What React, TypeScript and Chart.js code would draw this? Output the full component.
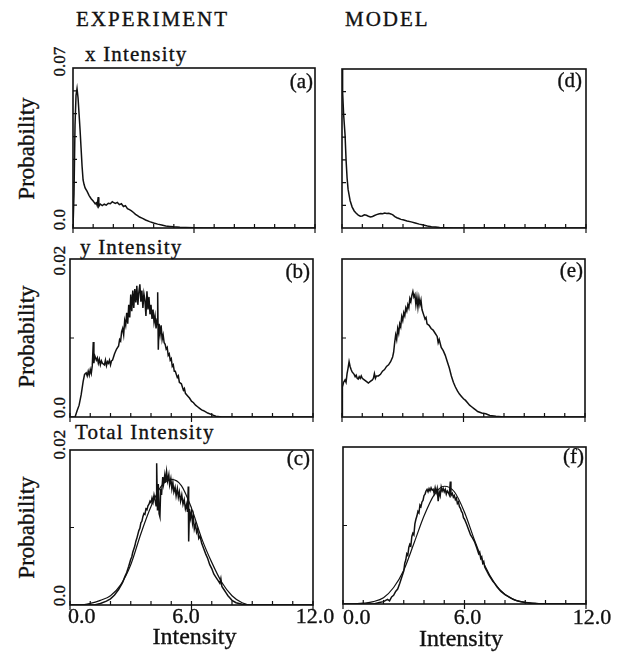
import React, { useEffect, useRef } from "react";
import { Chart, registerables } from "chart.js";

Chart.register(...registerables);

type Pt = [number, number];

// ---------- tick positions and labels ----------
const X_TICKS = [0, 1, 2, 3, 4, 5, 6, 7, 8, 9, 10, 11, 12];
const X_MAJOR = [0, 6, 12];
const X_TICK_LABELS = ["0.0", "6.0", "12.0"];
const Y_TICKS_X = [0.01, 0.02, 0.03, 0.04, 0.05, 0.06];
const Y_TICKS_Y = [0.01];
const Y_LABELS_X = ["0.07", "0.0"];
const Y_LABELS_Y = ["0.02", "0.0"];

// ---------- (a) experiment, x intensity ----------
const EXP_X: Pt[] = [
  [0, 0], [0.05, 0.015], [0.1, 0.045], [0.15, 0.058], [0.2, 0.061], [0.25, 0.057], [0.3, 0.05],
  [0.35, 0.043], [0.4, 0.035], [0.45, 0.027], [0.5, 0.021], [0.55, 0.019], [0.6, 0.0175],
  [0.7, 0.016], [0.8, 0.0142], [0.9, 0.0128], [1.0, 0.0118], [1.05, 0.0112], [1.1, 0.0106],
  [1.15, 0.011], [1.2, 0.0098], [1.25, 0.0135], [1.28, 0.0095], [1.35, 0.0105], [1.45, 0.0098],
  [1.55, 0.0104], [1.65, 0.01], [1.75, 0.0108], [1.85, 0.0106], [1.95, 0.0115], [2.0, 0.0112],
  [2.1, 0.0108], [2.2, 0.0112], [2.3, 0.0102], [2.4, 0.0106], [2.5, 0.0094], [2.6, 0.0098],
  [2.7, 0.0085], [2.8, 0.008], [2.9, 0.0075], [3.0, 0.0068], [3.1, 0.006], [3.2, 0.0054],
  [3.3, 0.0048], [3.45, 0.0042], [3.6, 0.0035], [3.8, 0.0028], [4.0, 0.0022], [4.2, 0.0017],
  [4.4, 0.0013], [4.6, 0.0009], [4.8, 0.0007], [5.0, 0.0005], [5.3, 0.0003], [5.6, 0.0002],
  [6.0, 0.0001], [6.5, 0], [12, 0],
];

// ---------- (d) model, x intensity ----------
const MOD_X: Pt[] = [
  [0, 0.07], [0.03, 0.06], [0.08, 0.05], [0.15, 0.041], [0.2, 0.03], [0.25, 0.022], [0.3, 0.017],
  [0.35, 0.0145], [0.4, 0.012], [0.5, 0.0092], [0.6, 0.0075], [0.7, 0.0065], [0.8, 0.0057],
  [0.9, 0.0052], [1.0, 0.0053], [1.1, 0.0058], [1.2, 0.0056], [1.3, 0.0052], [1.4, 0.0049],
  [1.5, 0.0051], [1.6, 0.0055], [1.7, 0.0059], [1.8, 0.0062], [1.9, 0.0064], [2.0, 0.0063],
  [2.1, 0.0066], [2.2, 0.0064], [2.3, 0.0065], [2.4, 0.0062], [2.5, 0.0058], [2.6, 0.005],
  [2.7, 0.0045], [2.8, 0.0042], [2.9, 0.0038], [3.0, 0.0036], [3.2, 0.0031], [3.4, 0.0027],
  [3.6, 0.0022], [3.8, 0.0017], [4.0, 0.0013], [4.2, 0.0009], [4.4, 0.0006], [4.6, 0.0004],
  [4.8, 0.0002], [5.1, 0.0001], [5.5, 0], [12, 0],
];

// ---------- (b) experiment, y intensity ----------
const EXP_Y: Pt[] = [
  [0, 0], [0.25, 0], [0.35, 0.0008], [0.45, 0.0015], [0.55, 0.0028], [0.65, 0.0045], [0.72, 0.0054],
  [0.8, 0.0056], [0.85, 0.0052], [0.9, 0.0058], [0.95, 0.0053], [1.0, 0.006], [1.05, 0.0055],
  [1.1, 0.0065], [1.15, 0.0095], [1.18, 0.0068], [1.22, 0.0078], [1.3, 0.0072], [1.35, 0.0075],
  [1.4, 0.0068], [1.45, 0.0073], [1.5, 0.0066], [1.55, 0.0071], [1.6, 0.0068], [1.7, 0.0066],
  [1.75, 0.0072], [1.8, 0.0065], [1.85, 0.007], [1.9, 0.0068], [1.95, 0.0072], [2.0, 0.0066],
  [2.05, 0.0071], [2.1, 0.0072], [2.15, 0.0076], [2.2, 0.008], [2.3, 0.0086], [2.4, 0.009],
  [2.45, 0.0098], [2.5, 0.0096], [2.55, 0.0108], [2.6, 0.0112], [2.65, 0.0104], [2.7, 0.0122],
  [2.75, 0.0116], [2.8, 0.0132], [2.85, 0.0118], [2.9, 0.0142], [2.95, 0.0126], [3.0, 0.0155],
  [3.05, 0.0134], [3.1, 0.016], [3.15, 0.0138], [3.2, 0.0162], [3.25, 0.0145], [3.3, 0.0166],
  [3.35, 0.0142], [3.4, 0.0158], [3.45, 0.0168], [3.5, 0.0146], [3.55, 0.016], [3.6, 0.0138],
  [3.65, 0.0156], [3.7, 0.0148], [3.75, 0.0128], [3.8, 0.0159], [3.85, 0.0136], [3.9, 0.0152],
  [3.95, 0.013], [4.0, 0.0142], [4.05, 0.0124], [4.1, 0.0136], [4.15, 0.012], [4.2, 0.0128],
  [4.25, 0.0112], [4.3, 0.0124], [4.33, 0.0158], [4.36, 0.0085], [4.4, 0.0118], [4.45, 0.0105],
  [4.5, 0.0116], [4.55, 0.0098], [4.6, 0.0104], [4.65, 0.0094], [4.7, 0.0092], [4.75, 0.0086],
  [4.8, 0.0088], [4.85, 0.0078], [4.9, 0.008], [4.95, 0.0072], [5.0, 0.0074], [5.05, 0.0064],
  [5.1, 0.0066], [5.15, 0.0058], [5.2, 0.0058], [5.3, 0.005], [5.35, 0.0052], [5.4, 0.0044],
  [5.5, 0.0042], [5.6, 0.0034], [5.65, 0.0036], [5.7, 0.003], [5.8, 0.0027], [5.9, 0.0024],
  [6.0, 0.002], [6.1, 0.0018], [6.2, 0.0015], [6.3, 0.0013], [6.4, 0.0011], [6.5, 0.0009],
  [6.6, 0.0008], [6.8, 0.0005], [7.0, 0.0003], [7.2, 0.0001], [7.5, 0], [12, 0],
];

// ---------- (e) model, y intensity ----------
const MOD_Y: Pt[] = [
  [0, 0], [0.02, 0.0038], [0.08, 0.0044], [0.15, 0.0047], [0.2, 0.0044], [0.25, 0.0055], [0.3, 0.0062],
  [0.35, 0.007], [0.4, 0.0064], [0.45, 0.006], [0.5, 0.0057], [0.6, 0.0054], [0.65, 0.0051],
  [0.7, 0.0053], [0.75, 0.0049], [0.8, 0.0048], [0.85, 0.0051], [0.9, 0.0049], [0.95, 0.0052],
  [1.0, 0.0049], [1.1, 0.0047], [1.2, 0.0045], [1.3, 0.0043], [1.4, 0.0045], [1.5, 0.0047],
  [1.55, 0.0049], [1.6, 0.0055], [1.65, 0.0049], [1.7, 0.0052], [1.8, 0.0052], [1.9, 0.0054],
  [2.0, 0.0058], [2.1, 0.006], [2.2, 0.0064], [2.3, 0.0066], [2.4, 0.007], [2.5, 0.0076],
  [2.55, 0.0082], [2.6, 0.0094], [2.65, 0.0104], [2.7, 0.0098], [2.75, 0.0112], [2.8, 0.0106],
  [2.85, 0.0118], [2.9, 0.0114], [2.95, 0.0127], [3.0, 0.0122], [3.05, 0.0132], [3.1, 0.0128],
  [3.15, 0.0138], [3.2, 0.0134], [3.25, 0.0142], [3.3, 0.0138], [3.35, 0.015], [3.4, 0.0146],
  [3.45, 0.0154], [3.5, 0.0159], [3.55, 0.0152], [3.6, 0.0155], [3.65, 0.0142], [3.7, 0.0152],
  [3.75, 0.0139], [3.8, 0.0151], [3.85, 0.0142], [3.9, 0.0148], [3.95, 0.0136], [4.0, 0.0132],
  [4.05, 0.0128], [4.1, 0.0124], [4.15, 0.0126], [4.2, 0.0118], [4.3, 0.0116], [4.4, 0.0112],
  [4.5, 0.011], [4.6, 0.0106], [4.7, 0.0102], [4.75, 0.0094], [4.8, 0.0098], [4.9, 0.0088],
  [5.0, 0.0084], [5.1, 0.0078], [5.2, 0.007], [5.3, 0.0062], [5.4, 0.0052], [5.5, 0.0044],
  [5.6, 0.0038], [5.7, 0.0033], [5.8, 0.0029], [5.9, 0.0026], [6.0, 0.0023], [6.1, 0.0021],
  [6.2, 0.0018], [6.3, 0.0015], [6.4, 0.0013], [6.5, 0.0011], [6.6, 0.0009], [6.7, 0.0007],
  [6.9, 0.0005], [7.1, 0.0004], [7.3, 0.0002], [7.6, 0.0001], [8.0, 0], [12, 0],
];

// ---------- (c) experiment, total intensity ----------
const EXP_T: Pt[] = [
  [0, 0], [1.2, 0], [1.5, 0.0002], [1.8, 0.0005], [2.0, 0.0008], [2.2, 0.0013], [2.4, 0.002],
  [2.6, 0.0029], [2.7, 0.0036], [2.8, 0.0042], [2.9, 0.005], [3.0, 0.0059], [3.05, 0.0062],
  [3.1, 0.0068], [3.2, 0.0076], [3.25, 0.0082], [3.3, 0.0086], [3.4, 0.0096], [3.45, 0.0099],
  [3.5, 0.0106], [3.55, 0.0108], [3.6, 0.0114], [3.65, 0.0118], [3.7, 0.0117], [3.75, 0.0124],
  [3.8, 0.0123], [3.85, 0.0128], [3.9, 0.013], [3.95, 0.0134], [4.0, 0.0132], [4.05, 0.0138],
  [4.1, 0.0133], [4.15, 0.0142], [4.2, 0.0136], [4.25, 0.0128], [4.28, 0.0183], [4.32, 0.0122],
  [4.36, 0.0156], [4.4, 0.0118], [4.44, 0.0114], [4.48, 0.015], [4.52, 0.0142], [4.58, 0.0165],
  [4.62, 0.0156], [4.68, 0.0168], [4.72, 0.0158], [4.77, 0.0172], [4.82, 0.016], [4.88, 0.0168],
  [4.92, 0.0155], [4.98, 0.0163], [5.03, 0.015], [5.08, 0.0158], [5.13, 0.0146], [5.19, 0.0152],
  [5.24, 0.0141], [5.3, 0.015], [5.35, 0.0139], [5.4, 0.0146], [5.46, 0.0134], [5.52, 0.0142],
  [5.58, 0.013], [5.64, 0.0136], [5.7, 0.0124], [5.76, 0.013], [5.8, 0.012], [5.84, 0.0153],
  [5.86, 0.0082], [5.9, 0.0124], [5.95, 0.0112], [6.0, 0.012], [6.05, 0.0106], [6.09, 0.0114],
  [6.14, 0.0098], [6.2, 0.0104], [6.25, 0.0094], [6.3, 0.0098], [6.36, 0.0086], [6.42, 0.0089],
  [6.5, 0.008], [6.6, 0.0073], [6.7, 0.0066], [6.8, 0.006], [6.9, 0.0052], [7.0, 0.0047],
  [7.1, 0.004], [7.2, 0.0036], [7.3, 0.0032], [7.4, 0.0028], [7.45, 0.0034], [7.5, 0.0024],
  [7.6, 0.002], [7.7, 0.0016], [7.8, 0.0012], [7.9, 0.0009], [8.0, 0.0006], [8.2, 0.0003],
  [8.5, 0.0001], [8.8, 0], [12, 0],
];

// ---------- (c) fitted curve ----------
const FIT_C: Pt[] = [
  [0, 0], [0.5, 0], [1.0, 0.0002], [1.5, 0.0006], [2.0, 0.0012], [2.5, 0.0026], [3.0, 0.0052],
  [3.5, 0.0092], [4.0, 0.0127], [4.5, 0.0153], [5.0, 0.0162], [5.5, 0.0154], [6.0, 0.0125],
  [6.5, 0.0086], [7.0, 0.0055], [7.5, 0.0029], [8.0, 0.0012], [8.5, 0.0003], [9.0, 0], [12, 0],
];

// ---------- (f) model, total intensity ----------
const MOD_T: Pt[] = [
  [0, 0], [1.5, 0], [1.8, 0.0002], [2.0, 0.0003], [2.2, 0.0006], [2.3, 0.0004], [2.4, 0.0009],
  [2.5, 0.0011], [2.6, 0.0016], [2.7, 0.0019], [2.8, 0.0026], [2.9, 0.0034], [3.0, 0.0042],
  [3.05, 0.0052], [3.1, 0.0056], [3.15, 0.0064], [3.2, 0.0062], [3.25, 0.0072], [3.3, 0.0076],
  [3.35, 0.0074], [3.4, 0.0086], [3.45, 0.009], [3.5, 0.0088], [3.55, 0.0102], [3.6, 0.0108],
  [3.65, 0.0112], [3.7, 0.0118], [3.75, 0.0116], [3.8, 0.0126], [3.85, 0.0124], [3.9, 0.013],
  [3.95, 0.0132], [4.0, 0.0138], [4.05, 0.014], [4.1, 0.0144], [4.15, 0.0146], [4.2, 0.0143],
  [4.25, 0.0147], [4.3, 0.0144], [4.35, 0.0148], [4.4, 0.0145], [4.45, 0.0146], [4.5, 0.0141],
  [4.55, 0.0148], [4.6, 0.0142], [4.65, 0.0147], [4.7, 0.0131], [4.75, 0.0143], [4.8, 0.0138],
  [4.85, 0.0149], [4.9, 0.0144], [4.95, 0.0147], [5.0, 0.0143], [5.05, 0.0146], [5.1, 0.014],
  [5.15, 0.0144], [5.2, 0.0142], [5.25, 0.0139], [5.3, 0.0156], [5.33, 0.0138], [5.4, 0.0141],
  [5.45, 0.0136], [5.5, 0.0138], [5.55, 0.0133], [5.6, 0.0135], [5.65, 0.0128], [5.7, 0.013],
  [5.75, 0.0124], [5.8, 0.0122], [5.85, 0.0118], [5.9, 0.0116], [5.95, 0.011], [6.0, 0.0108],
  [6.1, 0.0102], [6.2, 0.0095], [6.3, 0.0088], [6.4, 0.0084], [6.5, 0.0079], [6.6, 0.0072],
  [6.7, 0.0064], [6.75, 0.0066], [6.8, 0.0058], [6.85, 0.006], [6.9, 0.0052], [6.95, 0.0054],
  [7.0, 0.0047], [7.1, 0.0042], [7.2, 0.0037], [7.3, 0.0033], [7.4, 0.0029], [7.5, 0.0026],
  [7.6, 0.0022], [7.8, 0.0016], [8.0, 0.0012], [8.2, 0.0009], [8.4, 0.0006], [8.6, 0.0004],
  [8.8, 0.0003], [9.0, 0.0002], [9.3, 0.0001], [9.6, 0], [12, 0],
];

// ---------- (f) fitted curve ----------
const FIT_F: Pt[] = [
  [0, 0], [0.5, 0], [1.0, 0.0001], [1.5, 0.0003], [2.0, 0.0008], [2.5, 0.0021], [3.0, 0.0043],
  [3.5, 0.0077], [4.0, 0.0112], [4.5, 0.0139], [5.0, 0.015], [5.5, 0.0143], [6.0, 0.0117],
  [6.5, 0.0081], [7.0, 0.0049], [7.5, 0.0026], [8.0, 0.0012], [8.5, 0.0005], [9.0, 0.0002],
  [9.5, 0.0001], [10, 0], [12, 0],
];

const INK = "#111111";
const FONT = "'Liberation Serif', 'Times New Roman', serif";

const framePlugin = {
  id: "frame",
  afterDatasetsDraw(chart: any, _args: any, opts: any) {
    const { ctx, chartArea, scales } = chart;
    const { left, top, right, bottom } = chartArea;
    const xs = scales.x;
    const ys = scales.y;
    ctx.save();
    ctx.strokeStyle = INK;
    ctx.lineWidth = 1.6;
    ctx.strokeRect(left, top, right - left, bottom - top);
    ctx.lineWidth = 1.2;
    ctx.beginPath();
    for (const v of X_TICKS) {
      const px = xs.getPixelForValue(v);
      const major = X_MAJOR.includes(v);
      ctx.moveTo(px, bottom - 4);
      ctx.lineTo(px, bottom + (major ? 5 : 0));
    }
    for (const v of opts.yTicks as number[]) {
      const py = ys.getPixelForValue(v);
      ctx.moveTo(left, py);
      ctx.lineTo(left + 4, py);
    }
    ctx.stroke();
    ctx.restore();
  },
};

type Series = { pts: Pt[]; smooth?: boolean; width: number };

function Panel(props: { box: number[]; yMax: number; yTicks: number[]; series: Series[] }) {
  const ref = useRef<HTMLCanvasElement>(null);
  const [l, t, r, b] = props.box;
  const padL = 8, padT = 4, padR = 8, padB = 8;
  const w = r - l + padL + padR;
  const h = b - t + padT + padB;
  useEffect(() => {
    const chart = new Chart(ref.current as HTMLCanvasElement, {
      type: "line",
      data: {
        datasets: props.series.map((s) => ({
          data: s.pts.map(([x, y]) => ({ x, y })),
          borderColor: INK,
          borderWidth: s.width,
          pointRadius: 0,
          fill: false,
          tension: 0,
          cubicInterpolationMode: s.smooth ? "monotone" : "default",
        })),
      },
      options: {
        animation: false,
        responsive: false,
        events: [],
        layout: { padding: { left: padL, top: padT, right: padR, bottom: padB } },
        plugins: {
          legend: { display: false },
          tooltip: { enabled: false },
          frame: { yTicks: props.yTicks },
        } as any,
        scales: {
          x: { type: "linear", min: 0, max: 12, display: false },
          y: { type: "linear", min: 0, max: props.yMax, display: false },
        },
      },
      plugins: [framePlugin],
    } as any);
    return () => chart.destroy();
  }, []);
  return (
    <canvas
      ref={ref}
      width={w}
      height={h}
      style={{ position: "absolute", left: l - padL, top: t - padT, width: w, height: h }}
    />
  );
}

const textBase: any = {
  fontFamily: FONT,
  color: INK,
  whiteSpace: "nowrap",
  WebkitTextStroke: "0.35px #111111",
};

// baseline-positioned text
function Txt(props: { text: string; x: number; base: number; size: number; anchor?: string; ls?: number }) {
  const { text, x, base, size } = props;
  const anchor = props.anchor || "start";
  const top = base - 0.8375 * size;
  const W = 400;
  let left = x;
  let align: any = "left";
  if (anchor === "middle") { left = x - W / 2; align = "center"; }
  if (anchor === "end") { left = x - W; align = "right"; }
  return (
    <div
      style={{
        ...textBase,
        position: "absolute", left, top, width: W, height: size, lineHeight: size + "px",
        fontSize: size, textAlign: align,
        letterSpacing: props.ls ? props.ls + "px" : undefined,
      }}
    >
      {text}
    </div>
  );
}

// text rotated -90deg, reading bottom to top; baseX = x of baseline, cy = center along text
function RotTxt(props: { text: string; baseX: number; cy: number; size: number }) {
  const { text, baseX, cy, size } = props;
  const cx = baseX - 0.3375 * size;
  const W = 300;
  return (
    <div
      style={{
        ...textBase,
        position: "absolute", left: cx - W / 2, top: cy - size / 2, width: W, height: size,
        lineHeight: size + "px", fontSize: size, textAlign: "center",
        transform: "rotate(-90deg)", transformOrigin: "50% 50%",
      }}
    >
      {text}
    </div>
  );
}

export default function App() {
  return (
    <div style={{ position: "absolute", left: 0, top: 0, width: 621, height: 656, background: "#fff", overflow: "hidden" }}>
      <Txt text="EXPERIMENT" x={76} base={27} size={21} ls={2} />
      <Txt text="MODEL" x={345} base={27} size={21} ls={2} />

      <Txt text="x Intensity" x={85} base={62} size={21} ls={1.2} />
      <Txt text="y Intensity" x={80} base={255} size={21} ls={1.2} />
      <Txt text="Total Intensity" x={75} base={440} size={21} ls={1.2} />

      <RotTxt text="Probability" baseX={34} cy={148} size={23} />
      <RotTxt text="Probability" baseX={34} cy={336} size={23} />
      <RotTxt text="Probability" baseX={34} cy={527} size={23} />

      <RotTxt text={Y_LABELS_X[0]} baseX={65} cy={61.5} size={17} />
      <RotTxt text={Y_LABELS_X[1]} baseX={65} cy={219} size={17} />
      <RotTxt text={Y_LABELS_Y[0]} baseX={65} cy={260} size={17} />
      <RotTxt text={Y_LABELS_Y[1]} baseX={65} cy={407} size={17} />
      <RotTxt text={Y_LABELS_Y[0]} baseX={65} cy={444} size={17} />
      <RotTxt text={Y_LABELS_Y[1]} baseX={65} cy={595} size={17} />

      <Panel box={[73, 68, 315, 228]} yMax={0.07} yTicks={Y_TICKS_X} series={[{ pts: EXP_X, width: 1.5 }]} />
      <Panel box={[342, 69, 586, 228]} yMax={0.07} yTicks={Y_TICKS_X} series={[{ pts: MOD_X, width: 1.5 }]} />
      <Panel box={[70, 259, 313, 417]} yMax={0.02} yTicks={Y_TICKS_Y} series={[{ pts: EXP_Y, width: 1.5 }]} />
      <Panel box={[342, 259, 585, 417]} yMax={0.02} yTicks={Y_TICKS_Y} series={[{ pts: MOD_Y, width: 1.5 }]} />
      <Panel box={[70, 450, 313, 605]} yMax={0.02} yTicks={Y_TICKS_Y} series={[{ pts: FIT_C, smooth: true, width: 1.2 }, { pts: EXP_T, width: 1.5 }]} />
      <Panel box={[343, 447, 586, 604]} yMax={0.02} yTicks={Y_TICKS_Y} series={[{ pts: FIT_F, smooth: true, width: 1.2 }, { pts: MOD_T, width: 1.5 }]} />

      <Txt text="(a)" x={313} base={89} size={21} anchor="end" />
      <Txt text="(d)" x={582} base={88} size={21} anchor="end" />
      <Txt text="(b)" x={310} base={279} size={21} anchor="end" />
      <Txt text="(e)" x={583} base={278} size={21} anchor="end" />
      <Txt text="(c)" x={310} base={466} size={21} anchor="end" />
      <Txt text="(f)" x={584} base={464} size={21} anchor="end" />

      <Txt text={X_TICK_LABELS[0]} x={68} base={623} size={22} />
      <Txt text={X_TICK_LABELS[1]} x={186} base={623} size={22} anchor="middle" />
      <Txt text={X_TICK_LABELS[2]} x={315} base={623} size={22} anchor="middle" />
      <Txt text={X_TICK_LABELS[0]} x={343} base={624} size={22} />
      <Txt text={X_TICK_LABELS[1]} x={467.5} base={624} size={22} anchor="middle" />
      <Txt text={X_TICK_LABELS[2]} x={592} base={624} size={22} anchor="middle" />

      <Txt text="Intensity" x={194.5} base={644} size={24} anchor="middle" />
      <Txt text="Intensity" x={461} base={646} size={24} anchor="middle" />
    </div>
  );
}
